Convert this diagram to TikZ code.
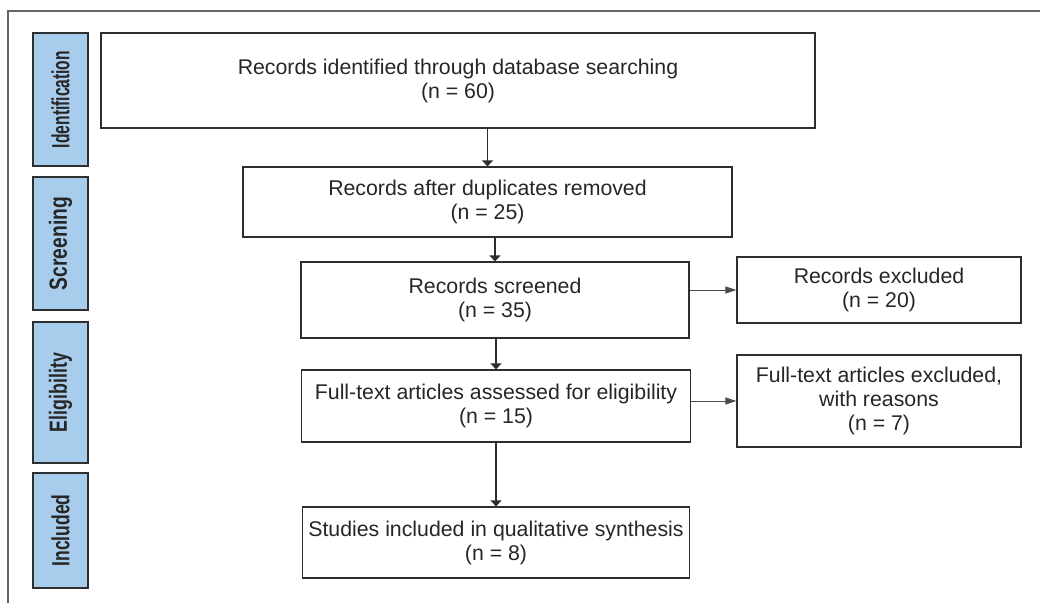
\documentclass[tikz,border=0pt]{standalone}
\usepackage{fontspec}
\setmainfont{Liberation Sans}
\usepackage{graphicx}
\usetikzlibrary{arrows.meta}

\definecolor{stage}{HTML}{A8CCEB}
\definecolor{rule}{HTML}{2E2E2E}

% stage names run upwards, squeezed to a given length
\newcommand{\stagename}[2]{\rotatebox{90}{\resizebox{#1}{18pt}{\bfseries #2}}}

\begin{document}
\begin{tikzpicture}[x=1pt, y=-1pt,
        font=\fontsize{21.3}{24}\selectfont,
        box/.style={draw=rule, line width=1.2pt, inner sep=0pt, align=center, text=black!85},
        stagebox/.style={box, fill=stage, minimum width=55pt},
        down/.style={line width=1.4pt, draw=rule, -{Triangle[length=6pt, width=11pt]}},
        aside/.style={line width=1pt, draw=black!70, -{Triangle[length=11pt, width=7pt]}}]
    \useasboundingbox (0, 0) rectangle (1040, 603);

    % frame
    \draw[black!60, line width=2pt] (8, 603) -- (8, 11) -- (1040, 11);

    % stages
    \node[stagebox, minimum height=133pt] (a) at (60.5, 99.5) {\stagename{97pt}{Identification}};
    \node[stagebox, minimum height=133pt] (b) at (60.5, 243.5) {\stagename{93pt}{Screening}};
    \node[stagebox, minimum height=141pt] (c) at (60.5, 392.5) {\stagename{79pt}{Eligibility}};
    \node[stagebox, minimum height=115pt] (d) at (60.5, 530.5) {\stagename{72pt}{Included}};

    % flow
    \node[box, minimum width=714pt, minimum height=95pt] (R) at (458, 80.5)
        {Records identified through database searching\\(n = 60)};
    \node[box, minimum width=489pt, minimum height=70pt] (D) at (487.5, 202)
        {Records after duplicates removed\\(n = 25)};
    \node[box, minimum width=388pt, minimum height=76pt] (S) at (495, 300)
        {Records screened\\(n = 35)};
    \node[box, minimum width=284pt, minimum height=66pt] (X) at (879, 290)
        {Records excluded\\(n = 20)};
    \node[box, minimum width=389pt, minimum height=72pt] (F) at (496, 406)
        {Full-text articles assessed for eligibility\\(n = 15)};
    \node[box, minimum width=284pt, minimum height=92pt] (W) at (879, 401)
        {Full-text articles excluded,\\with reasons\\(n = 7)};
    \node[box, minimum width=387pt, minimum height=71pt] (Q) at (496, 542.5)
        {Studies included in qualitative synthesis\\(n = 8)};

    \path
        (R.south -| D.north) edge[down] (D.north)
        (D.south -| S.north) edge[down] (S.north)
        (S.south -| F.north) edge[down] (F.north)
        (F.south) edge[down] (F.south |- Q.north)
        (S.east |- X.west) edge[aside] (X.west)
        (F.east |- W.west) edge[aside] (W.west)
    ;
\end{tikzpicture}
\end{document}
